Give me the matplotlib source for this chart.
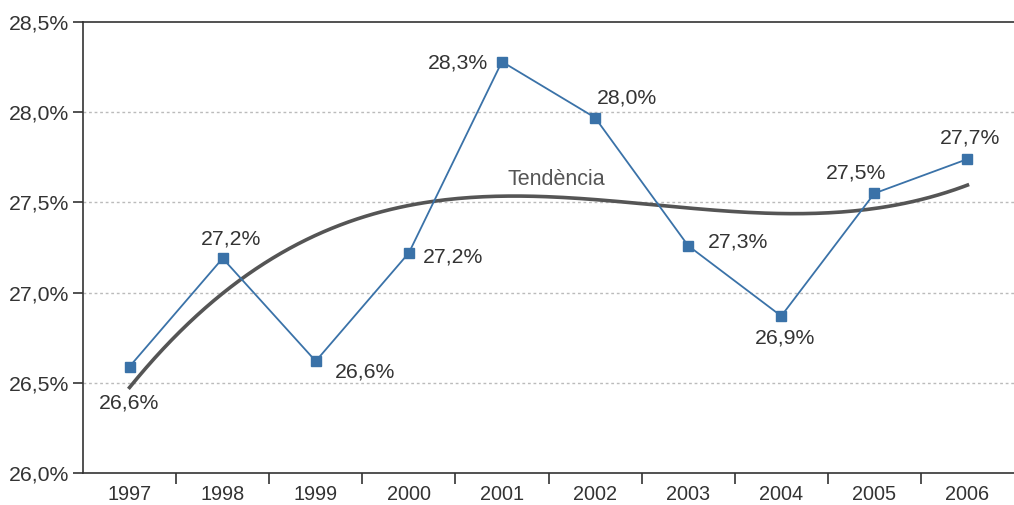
import numpy as np
import matplotlib.pyplot as plt

years = ["1997", "1998", "1999", "2000", "2001", "2002", "2003", "2004", "2005", "2006"]
values = [26.59, 27.19, 26.62, 27.22, 28.28, 27.97, 27.26, 26.87, 27.55, 27.74]
labels = ["26,6%", "27,2%", "26,6%", "27,2%", "28,3%", "28,0%", "27,3%", "26,9%", "27,5%", "27,7%"]
y_ticks = [26.0, 26.5, 27.0, 27.5, 28.0, 28.5]
y_ticklabels = ["26,0%", "26,5%", "27,0%", "27,5%", "28,0%", "28,5%"]

# label offsets in points (dx, dy) and alignment
label_pos = [(0, -26, "center"), (6, 14, "center"), (14, -8, "left"), (10, -3, "left"),
             (-10, -1, "right"), (1.5, 14, "left"), (14, 3, "left"), (3, -16, "center"),
             (-13, 15, "center"), (2, 15, "center")]

plt.rcParams['font.family'] = ['Liberation Sans', 'DejaVu Sans']

fig = plt.figure(figsize=(10.14, 5.05), dpi=100)
ax = fig.add_axes([83 / 1014, 1 - 473 / 505, 1 - 83 / 1014, (473 - 22) / 505])

x = np.arange(len(years))

# trend line: cubic fit of the series
coef = np.polyfit(x, values, 3)
xs = np.linspace(0, 9, 200)
ax.plot(xs, np.polyval(coef, xs), color="#555555", lw=2.6, zorder=2)
ax.text(4.58, 27.625, "Tendència", color="#555555", fontsize=15.5, ha="center", va="center")

ax.plot(x, values, color="#3a72a8", lw=1.3, marker="s", markersize=7, zorder=3)

for i, (v, lab) in enumerate(zip(values, labels)):
    dx, dy, ha = label_pos[i]
    ax.annotate(lab, (i, v), xytext=(dx, dy), textcoords="offset points",
                ha=ha, va="center", fontsize=15.3, color="#333333")

ax.set_xlim(-0.5, 9.5)
ax.set_ylim(26.0, 28.5)
ax.set_yticks(y_ticks)
ax.set_yticklabels(y_ticklabels, fontsize=15.3, color="#333333")
ax.set_xticks(x)
ax.set_xticklabels(years, fontsize=14.3, color="#333333")
ax.set_xticks(np.arange(0.5, 9.5, 1), minor=True)
ax.tick_params(axis="x", which="major", length=0, pad=9)
ax.tick_params(axis="x", which="minor", length=8, width=1.2, color="#333333")
ax.tick_params(axis="y", length=7, width=1.2, color="#333333", pad=3)

for yv in y_ticks[1:-1]:
    ax.axhline(yv, color="#bbbbbb", lw=1, linestyle=(0, (2, 2)), zorder=1)

ax.spines["right"].set_visible(False)
for s in ["left", "bottom", "top"]:
    ax.spines[s].set_color("#333333")
    ax.spines[s].set_linewidth(1.2)

fig.savefig("out.png", dpi=100)
